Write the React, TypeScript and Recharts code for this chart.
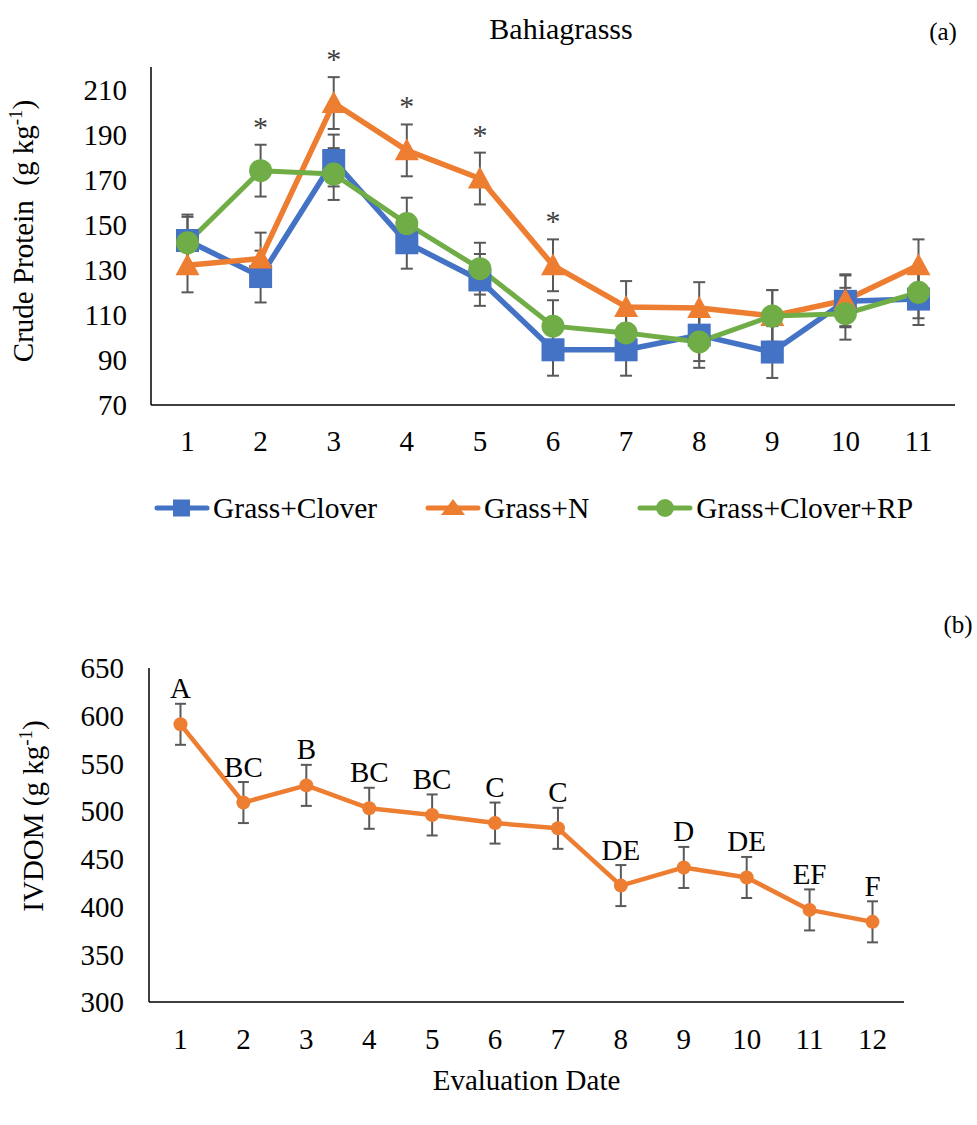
import { LineChart, Line, XAxis, YAxis, ErrorBar, LabelList, Legend } from 'recharts';

const FONT = '"Liberation Serif", "Times New Roman", serif';
const BLUE = '#4472C4';
const ORANGE = '#ED7D31';
const GREEN = '#70AD47';
const ERR = '#595959';

// (a) crude protein, Bahiagrass
const dates = ['1', '2', '3', '4', '5', '6', '7', '8', '9', '10', '11'];
const grassClover = [143, 127, 178.5, 142, 125.5, 94.5, 94.5, 101, 93.5, 116, 117];
const grassCloverErr = [11.5, 11.5, 11.5, 11.5, 11.5, 11.5, 11.5, 11.5, 11.5, 11.5, 11.5];
const grassN = [132, 135, 204, 183, 170.5, 132, 113.5, 113, 109.5, 116.5, 132];
const grassNErr = [12, 11.5, 11.5, 11.5, 11.5, 11.5, 11.5, 11.5, 11.5, 11.5, 11.5];
const grassCloverRp = [142, 174, 172.5, 150.5, 130.5, 105, 102, 98, 109.5, 110.5, 120];
const grassCloverRpErr = [11.5, 11.5, 11.5, 11.5, 11.5, 11.5, 11.5, 11.5, 11.5, 11.5, 11.5];
const cpStars = ['', '*', '*', '*', '*', '*', '', '', '', '', ''];
const cpTicks = [70, 90, 110, 130, 150, 170, 190, 210];

// (b) IVDOM
const evalDates = ['1', '2', '3', '4', '5', '6', '7', '8', '9', '10', '11', '12'];
const ivdom = [591, 509, 527, 503, 496, 487.5, 482, 422, 441, 430.5, 396.5, 384];
const ivdomErr = [21.5, 21.5, 21.5, 21.5, 21.5, 21.5, 21.5, 21.5, 21.5, 21.5, 21.5, 21.5];
const ivdomLetters = ['A', 'BC', 'B', 'BC', 'BC', 'C', 'C', 'DE', 'D', 'DE', 'EF', 'F'];
const ivdomTicks = [300, 350, 400, 450, 500, 550, 600, 650];

const cpData = dates.map((d, i) => ({
    date: d,
    clover: grassClover[i],
    cloverErr: grassCloverErr[i],
    nitro: grassN[i],
    nitroErr: grassNErr[i],
    rp: grassCloverRp[i],
    rpErr: grassCloverRpErr[i],
    star: cpStars[i],
    starTop: Math.max(grassClover[i] + grassCloverErr[i], grassN[i] + grassNErr[i], grassCloverRp[i] + grassCloverRpErr[i]),
}));

const ivData = evalDates.map((d, i) => ({ date: d, ivdom: ivdom[i], err: ivdomErr[i], letter: ivdomLetters[i] }));

const tickStyle = { fontSize: 29, fill: '#000', fontFamily: FONT };
const axisStyle = { stroke: '#000', strokeWidth: 1.5 };

const SquareDot = ({ cx, cy }: any) => <rect x={cx - 11.5} y={cy - 11.5} width={23} height={23} fill={BLUE} />;
const TriangleDot = ({ cx, cy }: any) => (
    <polygon points={`${cx},${cy - 12} ${cx + 12},${cy + 10} ${cx - 12},${cy + 10}`} fill={ORANGE} />
);
const CircleDot = ({ cx, cy }: any) => <circle cx={cx} cy={cy} r={11.5} fill={GREEN} />;
const SmallDot = ({ cx, cy }: any) => <circle cx={cx} cy={cy} r={7} fill={ORANGE} />;

const legendItems = [
    { name: 'Grass+Clover', color: BLUE, shape: 'square' },
    { name: 'Grass+N', color: ORANGE, shape: 'triangle' },
    { name: 'Grass+Clover+RP', color: GREEN, shape: 'circle' },
];

function CpLegend() {
    return (
        <div style={{ display: 'flex', alignItems: 'center', fontFamily: FONT, fontSize: 29.5, color: '#000', lineHeight: '32px' }}>
            {legendItems.map((it, i) => (
                <div key={it.name} style={{ display: 'flex', alignItems: 'center', marginLeft: i ? 48 : 0 }}>
                    <svg width={56} height={24}>
                        <line x1={3} y1={12} x2={53} y2={12} stroke={it.color} strokeWidth={5} strokeLinecap="round" />
                        {it.shape === 'square' && <rect x={19} y={3.5} width={17} height={17} fill={it.color} />}
                        {it.shape === 'triangle' && <polygon points="28,3 40,19 16,19" fill={it.color} />}
                        {it.shape === 'circle' && <circle cx={28} cy={12} r={9} fill={it.color} />}
                    </svg>
                    <span style={{ marginLeft: 3 }}>{it.name}</span>
                </div>
            ))}
        </div>
    );
}

const renderStar = (p: any) => (
    <text x={p.x} y={p.y - 8} textAnchor="middle" fontFamily={FONT} fontSize={30} fill="#404040">
        {p.value}
    </text>
);

const renderLetter = (p: any) => (
    <text x={p.x} y={p.y - 26} textAnchor="middle" fontFamily={FONT} fontSize={29} fill="#000">
        {p.value}
    </text>
);

const cpAxisLabel = () => (
    <text x={33} y={231} transform="rotate(-90 33 231)" textAnchor="middle" fontFamily={FONT} fontSize={29} fill="#000" style={{ whiteSpace: 'pre' }}>
        Crude Protein  (g kg
        <tspan dy={-11} fontSize={19}>-1</tspan>
        <tspan dy={11}>)</tspan>
    </text>
);

const ivAxisLabel = () => (
    <text x={43} y={256} transform="rotate(-90 43 256)" textAnchor="middle" fontFamily={FONT} fontSize={29} fill="#000">
        IVDOM (g kg
        <tspan dy={-11} fontSize={19}>-1</tspan>
        <tspan dy={11}>)</tspan>
    </text>
);

const dateLabel = (p: any) => (
    <text x={p.viewBox.x + p.viewBox.width / 2} y={p.viewBox.y + 88} textAnchor="middle" fontFamily={FONT} fontSize={29} fill="#000">
        Evaluation Date
    </text>
);

export default function App() {
    return (
        <div style={{ position: 'absolute', left: 0, top: 0, width: 977, height: 1125, background: '#fff', fontFamily: FONT }}>
            <div style={{ position: 'absolute', left: 561, top: 12, transform: 'translateX(-50%)', fontSize: 30, whiteSpace: 'nowrap' }}>Bahiagrasss</div>
            <div style={{ position: 'absolute', left: 943, top: 18, transform: 'translateX(-50%)', fontSize: 25 }}>(a)</div>
            <div style={{ position: 'absolute', left: 958, top: 611, transform: 'translateX(-50%)', fontSize: 25 }}>(b)</div>

            <div style={{ position: 'absolute', left: 0, top: 0 }}>
                <LineChart width={977} height={540} data={cpData} margin={{ top: 67, right: 22, bottom: 85, left: 51 }}>
                    <XAxis dataKey="date" interval={0} padding={{ left: 36.5, right: 36.5 }} tickLine={false} tickSize={0} tickMargin={25} tick={tickStyle} axisLine={axisStyle} height={50} />
                    <YAxis domain={[70, 220]} ticks={cpTicks} allowDataOverflow width={100} tickLine={false} tickSize={0} tickMargin={24} tick={tickStyle} axisLine={axisStyle} label={cpAxisLabel} />
                    <Line dataKey="clover" stroke={BLUE} strokeWidth={5.5} strokeLinejoin="round" dot={SquareDot} activeDot={false} isAnimationActive={false}>
                        <ErrorBar dataKey="cloverErr" width={6} strokeWidth={2} stroke={ERR} direction="y" isAnimationActive={false} />
                    </Line>
                    <Line dataKey="nitro" stroke={ORANGE} strokeWidth={5.5} strokeLinejoin="round" dot={TriangleDot} activeDot={false} isAnimationActive={false}>
                        <ErrorBar dataKey="nitroErr" width={6} strokeWidth={2} stroke={ERR} direction="y" isAnimationActive={false} />
                    </Line>
                    <Line dataKey="rp" stroke={GREEN} strokeWidth={5} strokeLinejoin="round" dot={CircleDot} activeDot={false} isAnimationActive={false}>
                        <ErrorBar dataKey="rpErr" width={6} strokeWidth={2} stroke={ERR} direction="y" isAnimationActive={false} />
                    </Line>
                    <Line dataKey="starTop" stroke="none" dot={false} activeDot={false} isAnimationActive={false}>
                        <LabelList dataKey="star" content={renderStar} />
                    </Line>
                    <Legend content={CpLegend} layout="horizontal" verticalAlign="middle" align="center" wrapperStyle={{ left: 154, top: 492, width: 900 }} />
                </LineChart>
            </div>

            <div style={{ position: 'absolute', left: 0, top: 560 }}>
                <LineChart width={977} height={565} data={ivData} margin={{ top: 108, right: 73, bottom: 23, left: 49 }}>
                    <XAxis dataKey="date" interval={0} padding={{ left: 31.5, right: 31.5 }} tickLine={false} tickSize={0} tickMargin={26} tick={tickStyle} axisLine={axisStyle} height={100} label={dateLabel} />
                    <YAxis domain={[300, 650]} ticks={ivdomTicks} allowDataOverflow width={100} tickLine={false} tickSize={0} tickMargin={25} tick={tickStyle} axisLine={axisStyle} label={ivAxisLabel} />
                    <Line dataKey="ivdom" stroke={ORANGE} strokeWidth={4.5} strokeLinejoin="round" dot={SmallDot} activeDot={false} isAnimationActive={false}>
                        <ErrorBar dataKey="err" width={5.5} strokeWidth={2} stroke={ERR} direction="y" isAnimationActive={false} />
                        <LabelList dataKey="letter" content={renderLetter} />
                    </Line>
                </LineChart>
            </div>
        </div>
    );
}
